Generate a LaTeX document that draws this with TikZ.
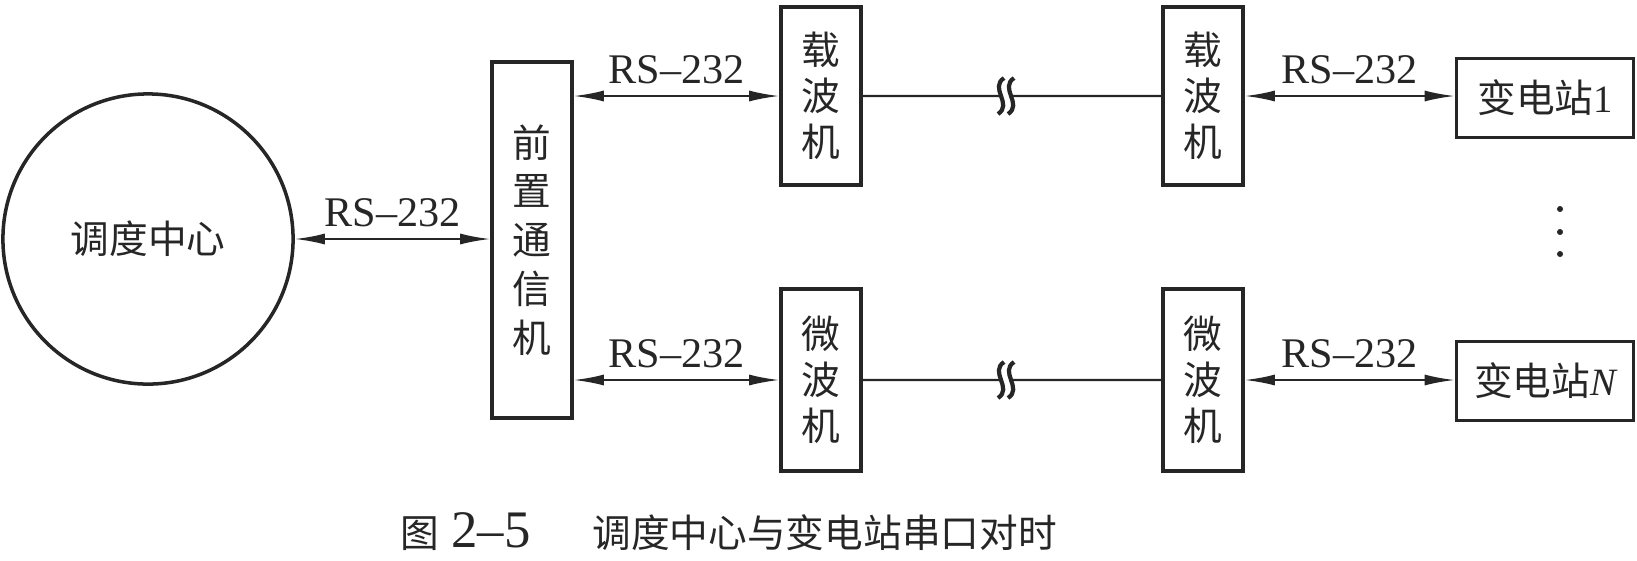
\documentclass[tikz,border=0pt]{standalone}
\usepackage{fontspec}
\setmainfont{Liberation Serif}
\newfontfamily\cjk{Noto Sans CJK SC}
\usetikzlibrary{calc,arrows.meta}

\begin{document}
\begin{tikzpicture}[
  x=0.01cm, y=-0.01cm,
  color=black!85,
  >={Latex[length=3mm,width=1.1mm]},
  unit/.style={draw, line width=1pt, inner sep=0pt, align=center,
               font={\cjk\fontsize{11pt}{13.1pt}\selectfont}},
  rack/.style={unit, minimum width=0.8cm, minimum height=1.78cm},
  station/.style={unit, minimum width=1.77cm, minimum height=0.79cm},
  link/.style={line width=0.6pt},
  wave/.style={line width=1.2pt},
  lab/.style={font=\fontsize{12pt}{14pt}\selectfont, inner sep=3pt},
]
\useasboundingbox (0,0) rectangle (1637,560);

% ------------------------------------------------------------------
% centre and front-end machine
% ------------------------------------------------------------------
\node[unit, circle, minimum size=2.9cm] (dc) at (148,239) {调度中心};
\node[unit, minimum width=0.8cm, minimum height=3.56cm,
      font={\cjk\fontsize{11pt}{13.9pt}\selectfont}] (qz) at (532,240)
     {前\\置\\通\\信\\机};

% ------------------------------------------------------------------
% carrier and microwave sets
% ------------------------------------------------------------------
\node[rack] (zb1) at (821,96)  {载\\波\\机};
\node[rack] (zb2) at (1203,96) {载\\波\\机};
\node[rack, minimum height=1.82cm] (wb1) at (821,380)  {微\\波\\机};
\node[rack, minimum height=1.82cm] (wb2) at (1203,380) {微\\波\\机};

% substations
\node[station] (bd1) at (1545,98)  {变电站{\rmfamily 1}};
\node[station] (bdN) at (1545,381) {变电站{\rmfamily\itshape N}};

\foreach \yy in {209,232,254}
  \fill (1560,\yy) circle[radius=0.03cm];

% ------------------------------------------------------------------
% RS-232 links
% ------------------------------------------------------------------
\draw[link, <->] (dc.east) -- (qz.west |- dc.east)
     node[lab, midway, above] {RS--232};
\draw[link, <->] (qz.east |- zb1.west) -- (zb1.west)
     node[lab, midway, above] {RS--232};
\draw[link, <->] (qz.east |- wb1.west) -- (wb1.west)
     node[lab, midway, above] {RS--232};
\draw[link, <->] (zb2.east) -- (bd1.west |- zb2.east)
     node[lab, midway, above] {RS--232};
\draw[link, <->] (wb2.east) -- (bdN.west |- wb2.east)
     node[lab, midway, above] {RS--232};

% ------------------------------------------------------------------
% long-distance channels with break marks
% ------------------------------------------------------------------
\coordinate (brkA) at ($(zb1.east)!0.48!(zb2.west)$);
\coordinate (brkB) at ($(wb1.east)!0.48!(wb2.west)$);
\foreach \a/\b/\m in {zb1/zb2/brkA, wb1/wb2/brkB} {
  \draw[link] (\a.east) -- ($(\m)+(-5,0)$);
  \draw[link] ($(\m)+(5,0)$) -- (\b.west);
  \foreach \dx in {-5,5}
    \draw[wave] ($(\m)+(\dx+3,-18)$) .. controls ($(\m)+(\dx-12,-8)$)
      and ($(\m)+(\dx+12,8)$) .. ($(\m)+(\dx-3,18)$);
}

% caption
\node[anchor=west, inner sep=0pt, font=\fontsize{11pt}{13pt}\selectfont]
     (cap) at (400,532)
     {{\cjk 图}\hspace{0.12cm}{\fontsize{15pt}{17pt}\selectfont 2--5}%
      \hspace{0.62cm}{\cjk 调度中心与变电站串口对时}};
\end{tikzpicture}
\end{document}
